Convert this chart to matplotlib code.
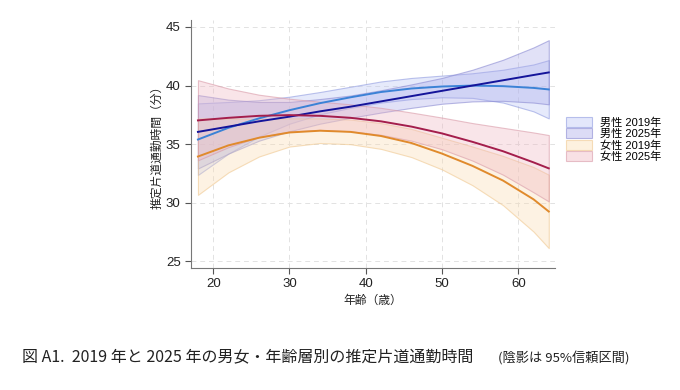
import numpy as np
import matplotlib.pyplot as plt
from matplotlib.patches import Patch
from matplotlib.colors import to_rgba

plt.rcParams['font.family'] = ['Liberation Sans', 'Noto Sans CJK JP', 'DejaVu Sans']

ages = [18, 22, 26, 30, 34, 38, 42, 46, 50, 54, 58, 62, 64]

# estimated one-way commute time (minutes) and 95% CI
men_2019 = [35.4, 36.4, 37.2, 37.9, 38.5, 39.0, 39.45, 39.75, 39.92, 40.0, 39.95, 39.8, 39.67]
men_2019_lo = [32.38, 34.2, 35.65, 36.75, 37.55, 38.1, 38.55, 38.85, 39.0, 38.95, 38.55, 37.8, 37.2]
men_2019_hi = [38.48, 38.6, 38.75, 39.05, 39.45, 39.9, 40.35, 40.65, 40.85, 41.05, 41.35, 41.8, 42.17]

men_2025 = [36.05, 36.5, 36.95, 37.35, 37.8, 38.2, 38.65, 39.1, 39.55, 40.0, 40.45, 40.9, 41.12]
men_2025_lo = [32.93, 34.2, 35.3, 36.1, 36.75, 37.25, 37.7, 38.1, 38.45, 38.65, 38.7, 38.55, 38.4]
men_2025_hi = [39.19, 38.8, 38.6, 38.6, 38.85, 39.15, 39.6, 40.1, 40.65, 41.35, 42.2, 43.25, 43.87]

women_2019 = [33.95, 34.9, 35.55, 36.0, 36.15, 36.05, 35.7, 35.1, 34.2, 33.15, 31.9, 30.3, 29.26]
women_2019_lo = [30.68, 32.6, 33.95, 34.8, 35.1, 35.0, 34.6, 33.9, 32.85, 31.5, 29.8, 27.55, 26.14]
women_2019_hi = [37.2, 37.2, 37.15, 37.2, 37.2, 37.1, 36.8, 36.3, 35.55, 34.8, 34.0, 33.05, 32.4]

women_2025 = [37.03, 37.25, 37.42, 37.48, 37.42, 37.25, 36.95, 36.5, 35.92, 35.2, 34.4, 33.45, 32.94]
women_2025_lo = [33.63, 34.75, 35.62, 36.08, 36.22, 36.1, 35.8, 35.3, 34.57, 33.6, 32.4, 30.9, 30.12]
women_2025_hi = [40.46, 39.75, 39.22, 38.88, 38.62, 38.4, 38.1, 37.7, 37.27, 36.8, 36.4, 36.0, 35.78]

series = [
    ("男性 2019年", men_2019, men_2019_lo, men_2019_hi, "#3b82d6", "#b9c3f5", "#8f9be0"),
    ("男性 2025年", men_2025, men_2025_lo, men_2025_hi, "#14149a", "#a9a9ea", "#8a8ad2"),
    ("女性 2019年", women_2019, women_2019_lo, women_2019_hi, "#e08a2c", "#fbdcb0", "#f0c890"),
    ("女性 2025年", women_2025, women_2025_lo, women_2025_hi, "#a41e4c", "#efb5c0", "#d99aa8"),
]

fig = plt.figure(figsize=(6.8, 3.9), dpi=100)
ax = fig.add_axes([0.281, 0.313, 0.535, 0.636])

handles = []
for label, y, lo, hi, lc, fc, ec in series:
    ax.fill_between(ages, lo, hi, facecolor=to_rgba(fc, 0.35),
                    edgecolor=to_rgba(ec, 0.6), linewidth=0.8, zorder=2)
    handles.append(Patch(facecolor=to_rgba(fc, 0.4), edgecolor=to_rgba(ec, 0.6),
                         linewidth=0.8, label=label))
for label, y, lo, hi, lc, fc, ec in series:
    ax.plot(ages, y, color=lc, linewidth=1.4, zorder=3)

ax.set_xlim(17.1, 64.8)
ax.set_ylim(24.45, 45.6)
ax.set_xticks([20, 30, 40, 50, 60])
ax.set_yticks([25, 30, 35, 40, 45])
ax.grid(True, linestyle=(0, (5, 4)), color="#e2e2e2", linewidth=0.7, zorder=0)
for s in ["top", "right"]:
    ax.spines[s].set_visible(False)
for s in ["left", "bottom"]:
    ax.spines[s].set_color("#777777")
    ax.spines[s].set_linewidth(0.8)
ax.tick_params(colors="#555555", labelcolor="#222222", labelsize=9.5, length=4, width=0.8)
ax.set_xlabel("年齢（歳）", fontsize=8.5, color="#222222", labelpad=3)
ax.set_ylabel("推定片道通勤時間（分）", fontsize=8.5, color="#222222", labelpad=2)

fig.legend(handles=handles, loc="upper left", bbox_to_anchor=(0.8255, 0.711),
           borderaxespad=0, frameon=False, fontsize=8, handlelength=2.35,
           handleheight=1.0, labelspacing=0.05, handletextpad=0.7)

cap_font = ['Noto Sans CJK JP', 'DejaVu Sans']
fig.text(0.032, 0.082, "図 A1.  2019 年と 2025 年の男女・年齢層別の推定片道通勤時間",
         fontsize=11.5, color="#222222", va="center", family=cap_font)
fig.text(0.732, 0.082, "(陰影は 95%信頼区間)", fontsize=9.5, color="#222222",
         va="center", family=cap_font)

fig.savefig("out.png", dpi=100)
